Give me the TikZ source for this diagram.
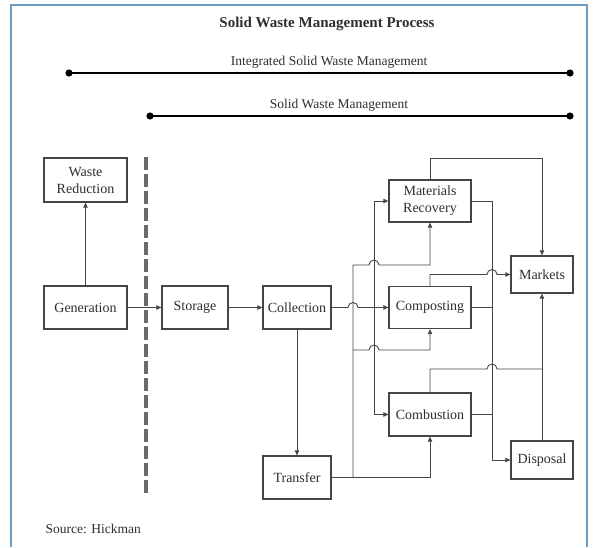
\documentclass[tikz,border=0pt]{standalone}
\usepackage{fontspec}
\setmainfont{Liberation Serif}
\usetikzlibrary{arrows.meta,calc}

\definecolor{linegray}{HTML}{454545}
\definecolor{txtgray}{HTML}{2E2E2E}
\definecolor{dashgray}{HTML}{6A6A6A}
\definecolor{framecol}{HTML}{6A9BC3}

\begin{document}
\begin{tikzpicture}[x=1pt,y=1pt,
    box/.style={draw=linegray, line width=1.3pt, fill=white, text=txtgray,
        font=\fontsize{14}{17}\selectfont, align=center, inner sep=2pt},
    lbl/.style={text=txtgray, font=\fontsize{13.5}{16}\selectfont},
    flow/.style={draw=linegray, line width=0.9pt},
    arr/.style={flow, -{Triangle[length=5pt,width=4.5pt]}},
    span/.style={line width=2.4pt, black}]

    % Fix the page size
    \useasboundingbox (0,0) rectangle (593,-547);

    % Blue frame round the figure
    \draw[framecol, line width=2pt] (11,-547) -- (11,-5) -- (587,-5) -- (587,-547);

    % Title and the two spans
    \node[text=txtgray, font=\bfseries\fontsize{15}{18}\selectfont] (title) at (327,-24) {Solid Waste Management Process};
    \node[lbl] (iswm) at (329,-62) {Integrated Solid Waste Management};
    \node[lbl] (swm) at (339,-105) {Solid Waste Management};

    \coordinate (i1) at (69,-73);
    \coordinate (i2) at (570,-73);
    \coordinate (s1) at (150,-116);
    \coordinate (s2) at (570,-116);
    \draw[span] (i1) -- (i2);
    \draw[span] (s1) -- (s2);
    \foreach \p in {i1,i2,s1,s2}
        \fill (\p) circle (3.6);

    % Boxes
    \node[box, minimum width=83pt, minimum height=44pt] (red) at (85.5,-180) {Waste\\Reduction};
    \node[box, minimum width=83pt, minimum height=43pt] (gen) at (85.5,-307.5) {Generation};
    \node[box, minimum width=66pt, minimum height=43pt] (stor) at (195,-307.5) {Storage};
    \node[box, minimum width=68pt, minimum height=43pt] (coll) at (297,-307.5) {Collection};
    \node[box, minimum width=68pt, minimum height=43pt] (trans) at (297,-477.5) {Transfer};
    \node[box, minimum width=82pt, minimum height=42pt] (matrec) at (430,-201) {Materials\\Recovery};
    \node[box, minimum width=82pt, minimum height=42pt] (comp) at (430,-307.5) {Composting};
    \node[box, minimum width=82pt, minimum height=43pt] (comb) at (430,-414.5) {Combustion};
    \node[box, minimum width=62pt, minimum height=37pt] (mkt) at (542,-274.5) {Markets};
    \node[box, minimum width=62pt, minimum height=38pt] (disp) at (542,-460) {Disposal};

    % Left part of the chain
    \draw[arr] (gen.north) -- (red.south);
    \draw[arr] (gen.east) -- (stor.west);
    \draw[arr] (stor.east) -- (coll.west);
    \draw[arr] (coll.south) -- (trans.north);

    % Dashed divider
    \draw[dashgray, line width=4pt, dash pattern=on 13pt off 4pt] (146,-157) -- (146,-493);

    % Buses from collection and from transfer
    \coordinate (cbus) at (374,-307.5);
    \coordinate (tbus) at (353,-477.5);

    \draw[arr] (coll.east) -- (348,-307.5) arc[start angle=180, end angle=0, radius=5] -- (comp.west);
    \draw[arr] (cbus) |- (matrec.west);
    \draw[arr] (cbus) |- (comb.west);

    \draw[arr] (trans.east) -| (comb.south);
    \draw[arr] (tbus) -- (353,-265) -- (369,-265) arc[start angle=180, end angle=0, radius=5] -| (matrec.south);
    \draw[arr] (353,-350) -- (369,-350) arc[start angle=180, end angle=0, radius=5] -| (comp.south);

    % Outputs to markets and disposal
    \draw[arr] (matrec.north) -- (430,-158) -| (mkt.north);
    \draw[arr] (matrec.east) -- (492,-201) |- (disp.west);
    \draw[flow] (comp.east) -- (492,-307.5);
    \draw[flow] (comb.east) -- (492,-414.5);
    \draw[arr] (comp.north) -- (430,-274.5) -- (487,-274.5) arc[start angle=180, end angle=0, radius=5] -- (mkt.west);
    \draw[flow] (comb.north) -- (430,-369) -- (487,-369) arc[start angle=180, end angle=0, radius=5] -- (542,-369);
    \draw[arr] (disp.north) -- (mkt.south);

    % Source line
    \node[lbl, anchor=west] (src) at (42,-529) {Source: Hickman};

\end{tikzpicture}
\end{document}
